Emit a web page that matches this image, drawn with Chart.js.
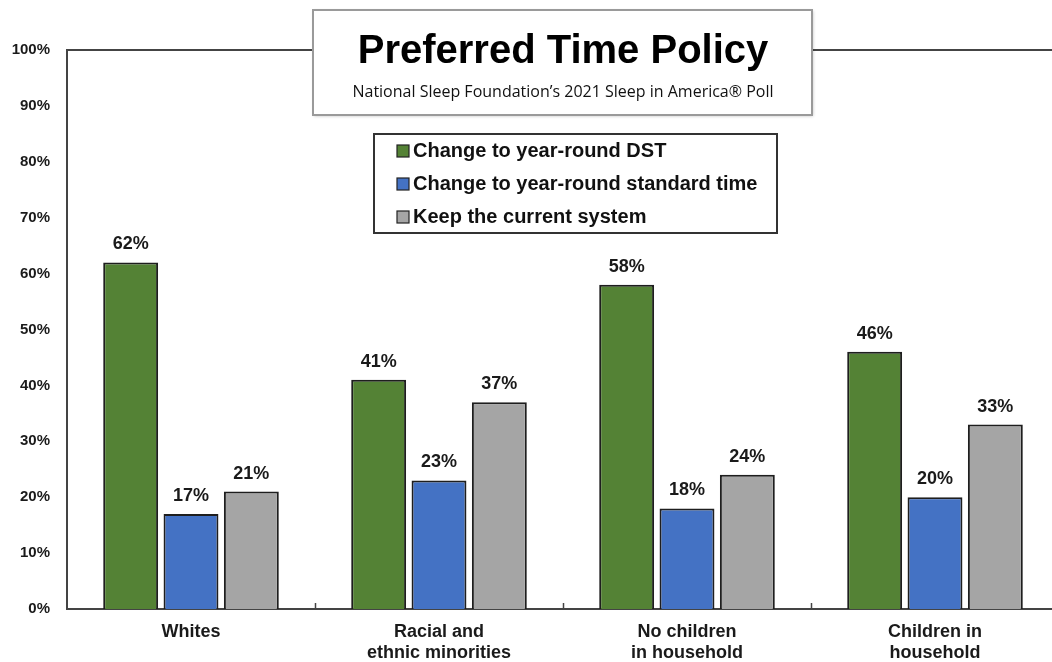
<!DOCTYPE html>
<html>
<head>
<meta charset="utf-8">
<style>
  html, body { margin: 0; padding: 0; background: #fff; overflow: hidden; }
  canvas { display: block; }
</style>
<script src="https://cdn.jsdelivr.net/npm/chart.js"></script>
</head>
<body>
<canvas id="chart" width="1059" height="662"></canvas>
<script>
const categories = [
  ["Whites"],
  ["Racial and", "ethnic minorities"],
  ["No children", "in household"],
  ["Children in", "household"],
]
const seriesNames = [
  "Change to year-round DST",
  "Change to year-round standard time",
  "Keep the current system",
]
const dstValues = [62, 41, 58, 46]
const standardValues = [17, 23, 18, 20]
const currentValues = [21, 37, 24, 33]
const yTicks = [0, 10, 20, 30, 40, 50, 60, 70, 80, 90, 100]

const colors = ["#548235", "#4472C4", "#A5A5A5"]
const FONT = "'Liberation Sans', Arial, sans-serif"

// labels above bars, title box, legend box, small tick marks
const decorations = {
  id: "decorations",
  afterDatasetsDraw(chart) {
    const ctx = chart.ctx
    ctx.save()
    ctx.fillStyle = "#1a1a1a"
    ctx.font = "bold 18px " + FONT
    ctx.textAlign = "center"
    ctx.textBaseline = "alphabetic"
    chart.data.datasets.forEach((ds, i) => {
      chart.getDatasetMeta(i).data.forEach((bar, j) => {
        ctx.fillText(ds.data[j] + "%", bar.x, bar.y - 13)
      })
    })
    ctx.restore()
  },
  afterDraw(chart) {
    const ctx = chart.ctx
    const area = chart.chartArea
    ctx.save()

    // top frame line
    ctx.strokeStyle = "#444"
    ctx.lineWidth = 2
    ctx.beginPath()
    ctx.moveTo(area.left, area.top)
    ctx.lineTo(area.right, area.top)
    ctx.stroke()

    // tick marks between categories
    const catW = (area.right - area.left) / categories.length
    ctx.lineWidth = 1.5
    for (let k = 1; k <= categories.length; k++) {
      const x = Math.round(area.left + k * catW) + 0.5
      ctx.beginPath()
      ctx.moveTo(x, area.bottom - 6)
      ctx.lineTo(x, area.bottom)
      ctx.stroke()
    }

    // title box
    ctx.shadowColor = "rgba(0,0,0,0.25)"
    ctx.shadowBlur = 3
    ctx.shadowOffsetX = 1
    ctx.shadowOffsetY = 1
    ctx.fillStyle = "#fff"
    ctx.fillRect(313, 10, 499, 105)
    ctx.shadowColor = "transparent"
    ctx.strokeStyle = "#9a9a9a"
    ctx.lineWidth = 2
    ctx.strokeRect(313, 10, 499, 105)

    ctx.fillStyle = "#000"
    ctx.textAlign = "center"
    ctx.textBaseline = "alphabetic"
    ctx.font = "bold 40px " + FONT
    ctx.fillText("Preferred Time Policy", 563, 63)
    ctx.font = "16px 'Open Sans', sans-serif"
    ctx.fillStyle = "#111"
    ctx.fillText("National Sleep Foundation\u2019s 2021 Sleep in America\u00AE Poll", 563, 97)

    // legend box
    ctx.fillStyle = "#fff"
    ctx.fillRect(374, 134, 403, 99)
    ctx.strokeStyle = "#333"
    ctx.lineWidth = 2
    ctx.strokeRect(374, 134, 403, 99)

    ctx.textAlign = "left"
    ctx.font = "bold 20px " + FONT
    chart.data.datasets.forEach((ds, i) => {
      const base = 157 + i * 33
      ctx.fillStyle = ds.backgroundColor
      ctx.fillRect(397, base - 12, 12, 12)
      ctx.strokeStyle = "#222"
      ctx.lineWidth = 1.2
      ctx.strokeRect(397, base - 12, 12, 12)
      ctx.fillStyle = "#111"
      ctx.fillText(ds.label, 413, base)
    })

    ctx.restore()
  },
}

new Chart(document.getElementById("chart"), {
  type: "bar",
  data: {
    labels: categories,
    datasets: [
      { label: seriesNames[0], data: dstValues, backgroundColor: colors[0] },
      { label: seriesNames[1], data: standardValues, backgroundColor: colors[1] },
      { label: seriesNames[2], data: currentValues, backgroundColor: colors[2] },
    ],
  },
  options: {
    responsive: false,
    animation: false,
    layout: { padding: { top: 50, right: 0, bottom: 0, left: 0 } },
    datasets: {
      bar: {
        borderColor: "#1e1e1e",
        borderWidth: 2,
        categoryPercentage: 0.73,
        barPercentage: 0.91,
      },
    },
    plugins: {
      legend: { display: false },
      tooltip: { enabled: false },
    },
    scales: {
      x: {
        grid: { display: false, drawTicks: false },
        border: { display: true, color: "#444", width: 2 },
        ticks: {
          color: "#1a1a1a",
          padding: 13,
          maxRotation: 0,
          autoSkip: false,
          font: { family: FONT, size: 18, weight: "bold", lineHeight: 1.15 },
        },
        afterFit(scale) {
          scale.height = 53
        },
      },
      y: {
        min: 0,
        max: 100,
        afterBuildTicks(scale) {
          scale.ticks = yTicks.map((v) => ({ value: v }))
        },
        grid: { display: false, drawTicks: false },
        border: { display: true, color: "#444", width: 2 },
        ticks: {
          color: "#1a1a1a",
          padding: 17,
          font: { family: FONT, size: 15, weight: "bold" },
          callback: (v) => v + "%",
        },
        afterFit(scale) {
          scale.width = 67
        },
      },
    },
  },
  plugins: [decorations],
})
</script>
</body>
</html>
